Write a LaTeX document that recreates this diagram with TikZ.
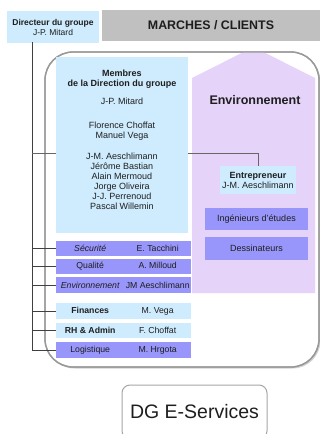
\documentclass[tikz,border=0pt]{standalone}
\usepackage{fontspec}
\setmainfont{Liberation Sans}
\usetikzlibrary{shadows}
\definecolor{lblue}{RGB}{206,236,254}
\definecolor{pblue}{RGB}{152,150,250}
\definecolor{lav}{RGB}{230,211,250}
\definecolor{bannergray}{RGB}{192,192,192}
\definecolor{ink}{RGB}{30,30,30}
\begin{document}
\begin{tikzpicture}[x=1pt,y=-1pt,
  txt/.style={font=\fontsize{9}{10}\selectfont, text=ink},
  lbbox/.style={fill=lblue, inner sep=0},
  pbbox/.style={fill=pblue, inner sep=0},
  stackbox/.style={minimum width=135pt, minimum height=15.5pt, inner sep=0, anchor=west,
    font=\fontsize{8.7}{10}\selectfont, text=ink},
  conn/.style={draw=black!75, line width=1pt},
  thinconn/.style={draw=black!60, line width=0.7pt}]
\useasboundingbox (0,0) rectangle (320,434);
\fill[white] (0,0) rectangle (320,434);

% top row
\node[lbbox, minimum width=92pt, minimum height=32pt, align=center,
  font=\fontsize{8.5}{10}\selectfont, text=ink] (dir) at (53,27) {\textbf{Directeur du groupe}\\J-P. Mitard};
\node[fill=bannergray, minimum width=218pt, minimum height=31pt, inner sep=0,
  font=\bfseries\fontsize{12.4}{14}\selectfont, text=ink] (mc) at (211,25.5) {MARCHES / CLIENTS};

% big rounded frame
\draw[draw=black!40, line width=1.3pt, fill=white, rounded corners=28pt,
  drop shadow={shadow xshift=1.5pt, shadow yshift=-1.5pt, opacity=0.35, fill=black!50}]
  (45,52) rectangle (319,367);
\begin{scope}
  \clip[rounded corners=28pt] (45,52) rectangle (319,367);
  \fill[lav] (192,293) -- (192,78) -- (253.5,47) -- (315,78) -- (315,293) -- cycle;
\end{scope}
\draw[draw=black!40, line width=1.3pt, rounded corners=28pt] (45,52) rectangle (319,367);

\node[font=\bfseries\fontsize{12.5}{14}\selectfont, text=ink] (env) at (255,100) {Environnement};

\node[lbbox, minimum width=76pt, minimum height=28pt, txt, align=center] (ent) at (258,180)
  {\textbf{Entrepreneur}\\J-M. Aeschlimann};
\node[pbbox, minimum width=103pt, minimum height=22pt, txt] (ing) at (256.5,219) {Ingénieurs d'études};
\node[pbbox, minimum width=103pt, minimum height=23pt, txt] (des) at (256.5,248.5) {Dessinateurs};

% connectors
\coordinate (trunk) at (32,42);
\coordinate (mtap) at (32,153);
\draw[thinconn] (mtap) -| (ent.north);

% members box
\node[lbbox, minimum width=132pt, minimum height=176pt] (mem) at (122,145) {};
\node[txt, align=center, anchor=north, inner sep=0] (memtxt) at (122,69.5)
  {\textbf{Membres}\\\textbf{de la Direction du groupe}\\[8pt]
   J-P. Mitard\\[14pt]
   Florence Choffat\\Manuel Vega\\[11pt]
   J-M. Aeschlimann\\Jérôme Bastian\\Alain Mermoud\\Jorge Oliveira\\J-J. Perrenoud\\Pascal Willemin};

% stacked boxes
\node[stackbox, fill=pblue] (sec) at (56,248.5) {\makebox[68pt]{\itshape Sécurité}\makebox[67pt]{E. Tacchini}};
\node[stackbox, fill=pblue] (qua) at (56,266.5) {\makebox[68pt]{Qualité}\makebox[67pt]{A. Milloud}};
\node[stackbox, fill=pblue] (envq) at (56,285) {\makebox[68pt]{\itshape Environnement}\makebox[67pt]{JM Aeschlimann}};
\node[stackbox, fill=lblue] (fin) at (56,311) {\makebox[68pt]{\bfseries Finances}\makebox[67pt]{M. Vega}};
\node[stackbox, fill=lblue] (rh) at (56,330.5) {\makebox[68pt]{\bfseries RH \& Admin}\makebox[67pt]{F. Choffat}};
\node[stackbox, fill=pblue] (log) at (56,350) {\makebox[68pt]{Logistique}\makebox[67pt]{M. Hrgota}};

\draw[conn] (trunk) -- (trunk |- log.west) -- (log.west);
\draw[thinconn] (mtap) -- (mem.west |- mtap);
\foreach \n in {sec,qua,envq,fin,rh}{\draw[conn] (trunk |- \n.west) -- (\n.west);}

% bottom box
\node[draw=black!35, line width=1pt, rounded corners=8pt, minimum width=145pt, minimum height=54pt,
  inner sep=0, font=\fontsize{19.5}{22}\selectfont, text=ink] (dg) at (194.5,412) {DG E-Services};
\end{tikzpicture}
\end{document}
